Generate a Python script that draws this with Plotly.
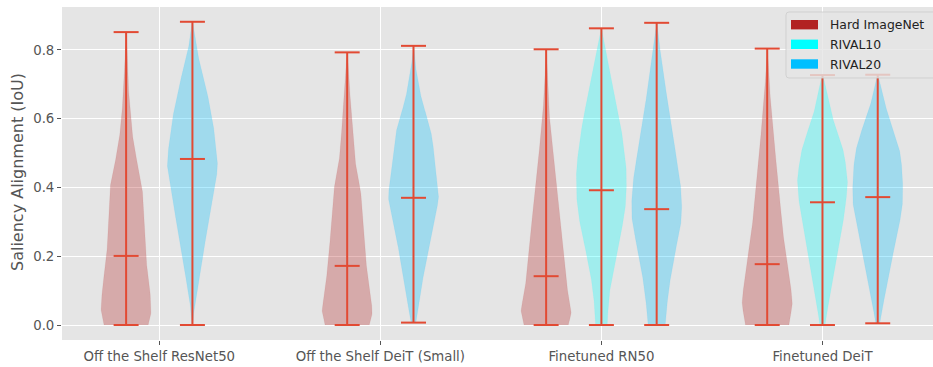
import numpy as np
import plotly.graph_objects as go

# ---- data -------------------------------------------------------------
groups = ["Off the Shelf ResNet50", "Off the Shelf DeiT (Small)", "Finetuned RN50", "Finetuned DeiT"]
series = ["Hard ImageNet", "RIVAL10", "RIVAL20"]

# which series appear in each group
group_series = [
    ["Hard ImageNet", "RIVAL20"],
    ["Hard ImageNet", "RIVAL20"],
    ["Hard ImageNet", "RIVAL10", "RIVAL20"],
    ["Hard ImageNet", "RIVAL10", "RIVAL20"],
]

# per-violin summary stats (min, median, max), in group order
v_min = [0.0, 0.0, 0.0, 0.007, 0.0, 0.0, 0.0, 0.0, 0.0, 0.005]
v_med = [0.201, 0.483, 0.172, 0.370, 0.142, 0.392, 0.337, 0.177, 0.357, 0.372]
v_max = [0.852, 0.882, 0.793, 0.812, 0.802, 0.863, 0.879, 0.804, 0.727, 0.728]

# estimated density profiles (IoU level, relative density)
dens_y = [
    [0.0, 0.02, 0.04, 0.08, 0.12, 0.2, 0.3, 0.4, 0.45, 0.5, 0.55, 0.6, 0.7, 0.8, 0.852],
    [0.0, 0.05, 0.1, 0.2, 0.3, 0.4, 0.45, 0.5, 0.6, 0.7, 0.8, 0.85, 0.882],
    [0.0, 0.03, 0.05, 0.1, 0.2, 0.3, 0.35, 0.4, 0.45, 0.5, 0.6, 0.7, 0.793],
    [0.007, 0.05, 0.1, 0.15, 0.2, 0.25, 0.3, 0.37, 0.4, 0.45, 0.5, 0.55, 0.6, 0.65, 0.7, 0.75, 0.812],
    [0.0, 0.03, 0.05, 0.1, 0.2, 0.3, 0.35, 0.4, 0.45, 0.5, 0.6, 0.7, 0.802],
    [0.0, 0.05, 0.1, 0.15, 0.2, 0.25, 0.3, 0.35, 0.4, 0.45, 0.5, 0.6, 0.7, 0.8, 0.863],
    [0.0, 0.05, 0.1, 0.15, 0.2, 0.25, 0.3, 0.35, 0.4, 0.45, 0.5, 0.6, 0.7, 0.8, 0.879],
    [0.0, 0.06, 0.1, 0.15, 0.2, 0.25, 0.3, 0.35, 0.4, 0.45, 0.5, 0.6, 0.7, 0.804],
    [0.0, 0.05, 0.1, 0.15, 0.2, 0.25, 0.3, 0.35, 0.4, 0.42, 0.45, 0.5, 0.55, 0.6, 0.65, 0.7, 0.727],
    [0.005, 0.05, 0.1, 0.15, 0.2, 0.25, 0.3, 0.35, 0.4, 0.45, 0.5, 0.55, 0.6, 0.65, 0.7, 0.728],
]
dens_w = [
    [21, 24, 25, 24, 23, 19, 17.5, 16, 12.5, 9, 6.3, 4.5, 2, 1, 0.3],
    [0.3, 1.7, 4.3, 10.3, 16, 21.7, 25.3, 24.5, 20, 13, 4, 2, 0.2],
    [21, 25, 24.5, 21.7, 17.8, 15.5, 14.5, 12.8, 9, 7, 4.5, 2, 0.2],
    [2, 5, 7.3, 10, 13, 16.7, 20, 25, 23.7, 21.7, 20, 18, 13.7, 8.3, 5, 2, 0.2],
    [21, 25, 24.5, 20.8, 17, 14, 12.5, 10.8, 8.8, 7, 3.3, 1.7, 0.2],
    [5.7, 6.7, 8.3, 11, 14.3, 18.3, 21.7, 24.3, 25, 25, 23.3, 18.3, 11, 4, 0.2],
    [8.3, 10, 11.7, 14.5, 17.5, 21, 24.5, 25, 24, 22, 19, 13.3, 8.3, 3.3, 0.2],
    [21, 25, 23.7, 20.8, 18.8, 16.2, 14.2, 12.8, 11.5, 9.7, 7.8, 4.7, 2, 0.2],
    [2.3, 5.3, 8.3, 11.2, 14.5, 17.8, 20.8, 23.3, 25, 25.5, 24.2, 21.7, 16.7, 10.3, 5.8, 2.7, 0.2],
    [1.7, 4.7, 8, 11.3, 14.7, 18.3, 22, 24.7, 25, 24.3, 22.5, 18, 11.7, 6.2, 2.5, 0.2],
]

y_ticks = [0.0, 0.2, 0.4, 0.6, 0.8]

# ---- styling ----------------------------------------------------------
fill_colors = {
    "Hard ImageNet": (178, 34, 34),
    "RIVAL10": (0, 255, 255),
    "RIVAL20": (0, 191, 255),
}
line_color = "#E24A33"
violin_width = 0.226
font = "DejaVu Sans"
tick_size = 13.3
title_size = 16
legend_size = 12.4

def rgba(c, a):
    return f"rgba({c[0]},{c[1]},{c[2]},{a})"

fig = go.Figure()

# violin positions around each group centre
positions = []
names = []
for gi, ser in enumerate(group_series):
    offs = [-0.15, 0.15] if len(ser) == 2 else [-0.25, 0.0, 0.25]
    for o, s in zip(offs, ser):
        positions.append(gi + o)
        names.append(s)

# violin bodies
for i, (x0, s) in enumerate(zip(positions, names)):
    ys = np.array(dens_y[i], dtype=float)
    w = np.array(dens_w[i], dtype=float)
    # smooth upsampled outline
    yy = np.linspace(ys[0], ys[-1], 240)
    ww = np.interp(yy, ys, w)
    k = np.hanning(21)
    k = k / k.sum()
    ww = np.convolve(np.pad(ww, 10, mode="edge"), k, mode="valid")
    ww[-1] = min(ww[-1], 0.3)
    ww = ww / ww.max() * violin_width / 2
    xs = np.concatenate([x0 - ww, (x0 + ww)[::-1]])
    ys_all = np.concatenate([yy, yy[::-1]])
    fig.add_trace(go.Scatter(
        x=xs, y=ys_all, mode="lines", fill="toself",
        fillcolor=rgba(fill_colors[s], 0.3),
        line=dict(width=0.5, color=rgba(fill_colors[s], 0.15)),
        hoverinfo="skip", showlegend=False,
    ))

# extrema bars and median lines
cap = violin_width / 4
lx, ly = [], []
for i, x0 in enumerate(positions):
    lx += [x0, x0, None]
    ly += [v_min[i], v_max[i], None]
    for v in (v_min[i], v_max[i], v_med[i]):
        lx += [x0 - cap, x0 + cap, None]
        ly += [v, v, None]
fig.add_trace(go.Scatter(x=lx, y=ly, mode="lines",
                         line=dict(color=line_color, width=2),
                         hoverinfo="skip", showlegend=False))

# ---- layout -----------------------------------------------------------
W, H = 933, 367
ml, mr, mt, mb = 62, 0, 7, 27
pw, ph = W - ml - mr, H - mt - mb

def px(xp):
    return (xp - ml) / pw

def py(yp):
    return (H - mb - yp) / ph

fig.update_layout(
    width=W, height=H,
    margin=dict(l=ml, r=mr, t=mt, b=mb),
    paper_bgcolor="white", plot_bgcolor="#E5E5E5",
    font=dict(family=font, size=tick_size, color="#555555"),
    showlegend=False,
    xaxis=dict(
        range=[-0.44, 3.50], tickmode="array",
        tickvals=list(range(len(groups))), ticktext=groups,
        showgrid=True, gridcolor="white", gridwidth=1,
        zeroline=False, ticks="outside", ticklen=4, tickcolor="#555555",
        tickfont=dict(size=tick_size, color="#555555"), showline=False,
    ),
    yaxis=dict(
        range=[-0.0436, 0.925], tickmode="array", tickvals=y_ticks,
        ticktext=[f"{v:.1f}" for v in y_ticks],
        showgrid=True, gridcolor="white", gridwidth=1,
        zeroline=False, ticks="outside", ticklen=4, tickcolor="#555555",
        tickfont=dict(size=tick_size, color="#555555"), showline=False,
    ),
)

# y-axis title
fig.add_annotation(
    text="Saliency Alignment (IoU)", textangle=-90,
    xref="paper", yref="paper", x=px(17), y=py(172),
    xanchor="center", yanchor="middle", showarrow=False,
    font=dict(family=font, size=title_size, color="#555555"),
)

# legend box
lx0, lx1, ly0, ly1 = px(786), px(940), py(12), py(78)
r_x, r_y = 3 / pw, 3 / ph
path = (f"M {lx0 + r_x},{ly0} L {lx1 - r_x},{ly0} Q {lx1},{ly0} {lx1},{ly0 - r_y} "
        f"L {lx1},{ly1 + r_y} Q {lx1},{ly1} {lx1 - r_x},{ly1} "
        f"L {lx0 + r_x},{ly1} Q {lx0},{ly1} {lx0},{ly1 + r_y} "
        f"L {lx0},{ly0 - r_y} Q {lx0},{ly0} {lx0 + r_x},{ly0} Z")
fig.add_shape(type="path", path=path, xref="paper", yref="paper",
              fillcolor="rgba(229,229,229,0.8)",
              line=dict(color="rgba(204,204,204,0.8)", width=1), layer="above")

row_y = [24.7, 44.3, 64.0]
for s, ry in zip(series, row_y):
    fig.add_shape(type="rect", xref="paper", yref="paper",
                  x0=px(791), x1=px(818), y0=py(ry - 4.7), y1=py(ry + 4.7),
                  fillcolor=rgba(fill_colors[s], 1), line=dict(width=0), layer="above")
    fig.add_annotation(text=s, xref="paper", yref="paper", x=px(828), y=py(ry),
                       xanchor="left", yanchor="middle", showarrow=False,
                       font=dict(family=font, size=legend_size, color="#222222"))

fig.write_html("out.html")
